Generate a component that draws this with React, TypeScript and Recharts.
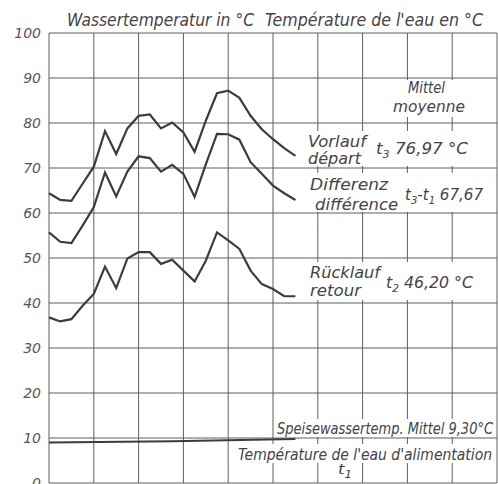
import React from "react";
import { LineChart, Line, XAxis, YAxis, CartesianGrid } from "recharts";

// quarter-column steps along the (unlabelled) time axis
const STEPS = [0, 1, 2, 3, 4, 5, 6, 7, 8, 9, 10, 11, 12, 13, 14, 15, 16, 17, 18, 19, 20, 21, 22];
const VORLAUF = [64.4, 62.9, 62.7, 66.5, 70.3, 78.2, 73.1, 78.8, 81.6, 81.9, 78.8, 80.1, 77.9, 73.6, 80.5, 86.6, 87.2, 85.6, 81.6, 78.6, 76.4, 74.4, 72.7];
const DIFFERENZ = [55.7, 53.6, 53.3, 57.2, 61.3, 69.0, 63.7, 69.2, 72.6, 72.2, 69.2, 70.7, 68.7, 63.6, 70.8, 77.6, 77.5, 76.3, 71.3, 68.7, 66.1, 64.4, 62.9];
const RUECKLAUF = [36.8, 35.9, 36.4, 39.4, 42.0, 48.1, 43.3, 49.9, 51.3, 51.3, 48.7, 49.6, 47.2, 44.8, 49.4, 55.7, 53.9, 52.0, 47.2, 44.2, 43.1, 41.5, 41.5];
const FEED_STEPS = [0, 11, 22];
const FEED = [9.0, 9.3, 9.8];

const Y_TICKS = [0, 10, 20, 30, 40, 50, 60, 70, 80, 90, 100];
const X_TICKS = [0, 4, 8, 12, 16, 20, 24, 28, 32, 36, 40];

const data = STEPS.map((s, k) => ({
  step: s,
  t3: VORLAUF[k],
  diff: DIFFERENZ[k],
  t2: RUECKLAUF[k],
}));
const feedData = FEED_STEPS.map((s, k) => ({ step: s, t1: FEED[k] }));

const FONT = '"DejaVu Sans Condensed", "DejaVu Sans", sans-serif';
const INK = "#444";
const LINE = "#3c3c3c";
const GRID = "#5e5e5e";

function Txt({ x, y, w, size = 15, children }: { x: number; y: number; w: number; size?: number; children: React.ReactNode }) {
  return (
    <text
      x={x}
      y={y}
      textLength={w}
      lengthAdjust="spacingAndGlyphs"
      fontFamily={FONT}
      fontStyle="italic"
      fontSize={size}
      fill={INK}
    >
      {children}
    </text>
  );
}

const Sub = ({ children }: { children: React.ReactNode }) => (
  <tspan dy={4} fontSize={10}>
    {children}
  </tspan>
);

export default function App() {
  return (
    <div style={{ position: "absolute", left: 0, top: 0, width: 498, height: 484, background: "#fff" }}>
      <LineChart width={498} height={484} data={data} margin={{ top: 33, right: 1, bottom: 1, left: 0 }}>
        <CartesianGrid stroke={GRID} strokeWidth={1} />
        <XAxis type="number" dataKey="step" domain={[0, 40]} ticks={X_TICKS} hide />
        <YAxis
          type="number"
          domain={[0, 100]}
          ticks={Y_TICKS}
          width={49}
          axisLine={false}
          tickLine={false}
          interval={0}
          tick={{ fill: "#555", fontSize: 14, fontStyle: "italic", fontFamily: '"DejaVu Sans", sans-serif' }}
        />
        <Line type="linear" dataKey="t3" stroke={LINE} strokeWidth={2.2} dot={false} isAnimationActive={false} />
        <Line type="linear" dataKey="diff" stroke={LINE} strokeWidth={2.2} dot={false} isAnimationActive={false} />
        <Line type="linear" dataKey="t2" stroke={LINE} strokeWidth={2.2} dot={false} isAnimationActive={false} />
        <Line type="linear" data={feedData} dataKey="t1" stroke={LINE} strokeWidth={2} dot={false} isAnimationActive={false} />
      </LineChart>

      <svg width={498} height={484} style={{ position: "absolute", left: 0, top: 0, pointerEvents: "none" }}>
        {/* blank out the grid behind the hand lettering */}
        <rect x={404} y={80} width={66} height={37} fill="#fff" />
        <rect x={305} y={131} width={166} height={35} fill="#fff" />
        <rect x={305} y={173} width={181} height={39} fill="#fff" />
        <rect x={305} y={262} width={171} height={38} fill="#fff" />
        <rect x={276} y={419} width={219} height={18} fill="#fff" />
        <rect x={233} y={444} width={262} height={19} fill="#fff" />

        <Txt x={67} y={26} w={187} size={18}>Wassertemperatur in °C</Txt>
        <Txt x={265} y={26} w={218} size={18}>Température de l'eau en °C</Txt>

        <Txt x={408} y={93} w={37}>Mittel</Txt>
        <Txt x={393} y={112} w={72}>moyenne</Txt>

        <Txt x={308} y={147} w={58}>Vorlauf</Txt>
        <Txt x={308} y={164} w={53}>départ</Txt>
        <Txt x={376} y={154} w={92}>
          t<Sub>3</Sub>
          <tspan dy={-4}> 76,97 °C</tspan>
        </Txt>

        <Txt x={310} y={190} w={78}>Differenz</Txt>
        <Txt x={315} y={210} w={83}>différence</Txt>
        <Txt x={405} y={200} w={78}>
          t<Sub>3</Sub>
          <tspan dy={-4}>-t</tspan>
          <Sub>1</Sub>
          <tspan dy={-4}> 67,67</tspan>
        </Txt>

        <Txt x={310} y={278} w={70}>Rücklauf</Txt>
        <Txt x={310} y={296} w={51}>retour</Txt>
        <Txt x={386} y={288} w={87}>
          t<Sub>2</Sub>
          <tspan dy={-4}> 46,20 °C</tspan>
        </Txt>

        <Txt x={277} y={434} w={216}>Speisewassertemp. Mittel 9,30°C</Txt>
        <Txt x={238} y={460} w={254}>Température de l'eau d'alimentation</Txt>
        <Txt x={338} y={474} w={14} size={14}>
          t<Sub>1</Sub>
        </Txt>
      </svg>
    </div>
  );
}
